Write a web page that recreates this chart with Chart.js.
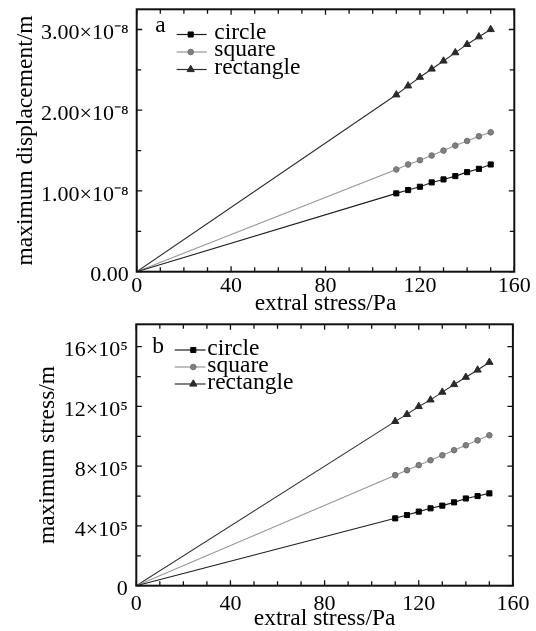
<!DOCTYPE html>
<html><head><meta charset="utf-8">
<script src="https://cdn.jsdelivr.net/npm/chart.js@4.4.0/dist/chart.umd.min.js"></script>
<style>
html,body{margin:0;padding:0;background:#fff;}
#wrap{position:relative;width:536px;height:631px;overflow:hidden;background:#fff;}
canvas{position:absolute;left:0;}
</style></head><body>
<div id="wrap">
<canvas id="ca" width="536" height="318" style="top:0px"></canvas>
<canvas id="cb" width="536" height="313" style="top:318px"></canvas>
</div>
<script>
// ---------- data ----------
const extraStress = [0, 110, 115, 120, 125, 130, 135, 140, 145, 150];
const seriesNames = ['circle', 'square', 'rectangle'];

// panel a: maximum displacement (m)
const dispCircle    = [0, 0.970e-8, 1.011e-8, 1.052e-8, 1.106e-8, 1.143e-8, 1.184e-8, 1.233e-8, 1.274e-8, 1.328e-8];
const dispSquare    = [0, 1.266e-8, 1.328e-8, 1.381e-8, 1.439e-8, 1.500e-8, 1.562e-8, 1.619e-8, 1.677e-8, 1.726e-8];
const dispRectangle = [0, 2.191e-8, 2.302e-8, 2.409e-8, 2.511e-8, 2.610e-8, 2.713e-8, 2.815e-8, 2.910e-8, 3.000e-8];

// panel b: maximum stress
const stressCircle    = [0, 4.51e5, 4.73e5, 4.96e5, 5.18e5, 5.36e5, 5.58e5, 5.84e5, 6.00e5, 6.18e5];
const stressSquare    = [0, 7.40e5, 7.73e5, 8.07e5, 8.40e5, 8.73e5, 9.07e5, 9.40e5, 9.73e5, 10.07e5];
const stressRectangle = [0, 11.00e5, 11.47e5, 12.00e5, 12.44e5, 12.96e5, 13.47e5, 13.96e5, 14.44e5, 14.96e5];

// tick labels
const xTickLabels  = ['0', '40', '80', '120', '160'];
const yTickLabelsA = ['0.00', '1.00×10⁻⁸', '2.00×10⁻⁸', '3.00×10⁻⁸'];
const yTickLabelsB = ['0', '4×10⁵', '8×10⁵', '12×10⁵', '16×10⁵'];

// ---------- styling ----------
const FONT = '"Liberation Serif", "Times New Roman", serif';
const styles = [
  {line: '#1e1e1e', fill: '#000000', edge: '#000000', shape: 'rect',     r: 3.6},
  {line: '#959595', fill: '#808080', edge: '#6e6e6e', shape: 'circle',   r: 2.8},
  {line: '#2e2e2e', fill: '#2a2a2a', edge: '#2a2a2a', shape: 'triangle', r: 4.2}
];

function pts(ys) { return extraStress.map((x, i) => ({x: x, y: ys[i]})); }

function makeDatasets(seriesList) {
  return seriesList.map((ys, i) => ({
    label: seriesNames[i],
    data: pts(ys),
    borderColor: styles[i].line,
    borderWidth: 1.1,
    pointStyle: styles[i].shape,
    pointRadius: (c) => c.dataIndex === 0 ? 0 : styles[i].r,
    pointBackgroundColor: styles[i].fill,
    pointBorderColor: styles[i].edge,
    pointBorderWidth: 1,
    tension: 0,
    fill: false
  }));
}

function drawMarker(ctx, shape, x, y, r, fill, edge) {
  ctx.save();
  ctx.fillStyle = fill; ctx.strokeStyle = edge; ctx.lineWidth = 1;
  ctx.beginPath();
  if (shape === 'rect') {
    const s = Math.SQRT1_2 * r;
    ctx.rect(x - s, y - s, 2 * s, 2 * s);
  } else if (shape === 'circle') {
    ctx.arc(x, y, r, 0, Math.PI * 2);
  } else {
    ctx.moveTo(x, y - r);
    ctx.lineTo(x + r * Math.sin(Math.PI * 2 / 3), y - r * Math.cos(Math.PI * 2 / 3));
    ctx.lineTo(x + r * Math.sin(Math.PI * 4 / 3), y - r * Math.cos(Math.PI * 4 / 3));
    ctx.closePath();
  }
  ctx.fill(); ctx.stroke();
  ctx.restore();
}

// frame with inward ticks on all four sides
const framePlugin = {
  id: 'frame',
  afterDatasetsDraw(chart, args, opts) {
    const {ctx, chartArea: a, scales: {x, y}} = chart;
    ctx.save();
    ctx.strokeStyle = '#111';
    ctx.lineWidth = 1.3;
    ctx.beginPath();
    x.ticks.forEach(t => {
      const px = x.getPixelForValue(t.value);
      const L = (t.value % opts.xMajor === 0) ? 5.5 : 4.5;
      ctx.moveTo(px, a.bottom); ctx.lineTo(px, a.bottom - L);
      ctx.moveTo(px, a.top); ctx.lineTo(px, a.top + L);
    });
    y.ticks.forEach(t => {
      const py = y.getPixelForValue(t.value);
      const k = Math.round(t.value / opts.yStep);
      const L = (k % 2 === 0) ? 5.5 : 4.5;
      ctx.moveTo(a.left, py); ctx.lineTo(a.left + L, py);
      ctx.moveTo(a.right, py); ctx.lineTo(a.right - L, py);
    });
    ctx.stroke();
    ctx.lineWidth = 2;
    ctx.strokeStyle = '#111';
    ctx.strokeRect(a.left, a.top, a.right - a.left, a.bottom - a.top);
    ctx.restore();
  },
  afterDraw(chart, args, opts) {
    const {ctx, chartArea: a} = chart;
    const L = opts.legend;
    ctx.save();
    ctx.font = '23.5px ' + FONT;
    ctx.fillStyle = '#000';
    ctx.textBaseline = 'alphabetic';
    ctx.textAlign = 'left';
    ctx.fillText(opts.panel, a.left + L.tagX, a.top + L.tagY);
    seriesNames.forEach((name, i) => {
      const rowY = a.top + L.row0 + i * L.rowStep;
      ctx.strokeStyle = styles[i].line;
      ctx.lineWidth = 1.2;
      ctx.beginPath();
      ctx.moveTo(a.left + L.x1, rowY);
      ctx.lineTo(a.left + L.x2, rowY);
      ctx.stroke();
      drawMarker(ctx, styles[i].shape, a.left + L.mx, rowY, styles[i].r, styles[i].fill, styles[i].edge);
      ctx.fillStyle = '#000';
      ctx.fillText(name, a.left + L.tx, rowY + L.textDy);
    });
    ctx.restore();
  }
};

function buildTicks(step, max) {
  return (s) => {
    const out = [];
    const n = Math.round(max / step + 1e-9);
    for (let i = 0; i <= n; i++) out.push({value: i * step});
    s.ticks = out;
  };
}

function makeChart(id, cfg) {
  const yStep = cfg.yStep;
  return new Chart(document.getElementById(id), {
    type: 'line',
    data: {datasets: makeDatasets(cfg.series)},
    plugins: [framePlugin],
    options: {
      responsive: false,
      animation: false,
      devicePixelRatio: 1,
      layout: {padding: cfg.pad},
      plugins: {
        legend: {display: false},
        tooltip: {enabled: false},
        frame: {xMajor: 40, yStep: yStep, panel: cfg.panel, legend: cfg.legend}
      },
      scales: {
        x: {
          type: 'linear', min: 0, max: 160,
          grid: {display: false, drawTicks: false},
          border: {display: false},
          afterBuildTicks: buildTicks(10, 160),
          afterFit: (s) => { s.height = cfg.xHeight; s.paddingLeft = 0; s.paddingRight = 0; },
          ticks: {
            autoSkip: false, maxRotation: 0, minRotation: 0,
            padding: cfg.xTickPad, color: '#000',
            font: {family: FONT, size: 22},
            callback: (v) => (v % 40 === 0) ? xTickLabels[v / 40] : ''
          },
          title: {
            display: true, text: 'extral stress/Pa', color: '#000',
            font: {family: FONT, size: 23.5},
            padding: {top: 0, bottom: cfg.xTitlePad}
          }
        },
        y: {
          type: 'linear', min: 0, max: cfg.yMax,
          grid: {display: false, drawTicks: false},
          border: {display: false},
          afterBuildTicks: buildTicks(yStep, Math.floor(cfg.yMax / yStep + 1e-9) * yStep),
          afterFit: (s) => { s.width = cfg.yWidth; s.paddingTop = 0; s.paddingBottom = 0; },
          ticks: {
            autoSkip: false, padding: cfg.yTickPad, color: '#000', labelOffset: 4,
            font: {family: FONT, size: 22},
            callback: (v) => {
              const k = Math.round(v / yStep);
              return (k % 2 === 0) ? cfg.yLabels[k / 2] : '';
            }
          },
          title: {
            display: true, text: cfg.yTitle, color: '#000',
            font: {family: FONT, size: 23.5},
            padding: {top: cfg.yTitlePad, bottom: 0}
          }
        }
      }
    }
  });
}

makeChart('ca', {
  panel: 'a',
  series: [dispCircle, dispSquare, dispRectangle],
  yMax: 3.25e-8, yStep: 0.5e-8, yLabels: yTickLabelsA,
  yTitle: 'maximum displacement/m',
  pad: {left: 0, top: 9.3, right: 21.7, bottom: 0},
  yWidth: 136.7, xHeight: 46.3,
  xTickPad: 1, xTitlePad: 0, yTickPad: 8, yTitlePad: 11.7,
  legend: {tagX: 18.5, tagY: 22.4, row0: 25.2, rowStep: 17.5, x1: 40, x2: 70, mx: 54, tx: 77.6, textDy: 4}
});

makeChart('cb', {
  panel: 'b',
  series: [stressCircle, stressSquare, stressRectangle],
  yMax: 17.5e5, yStep: 2e5, yLabels: yTickLabelsB,
  yTitle: 'maximum stress/m',
  pad: {left: 0, top: 6.3, right: 23.1, bottom: 0},
  yWidth: 136.3, xHeight: 45.3,
  xTickPad: 5, xTitlePad: -2, yTickPad: 8.5, yTitlePad: 34,
  legend: {tagX: 16, tagY: 29, row0: 25.7, rowStep: 17, x1: 38.4, x2: 69.2, mx: 57, tx: 71, textDy: 5}
});
</script>
</body></html>
